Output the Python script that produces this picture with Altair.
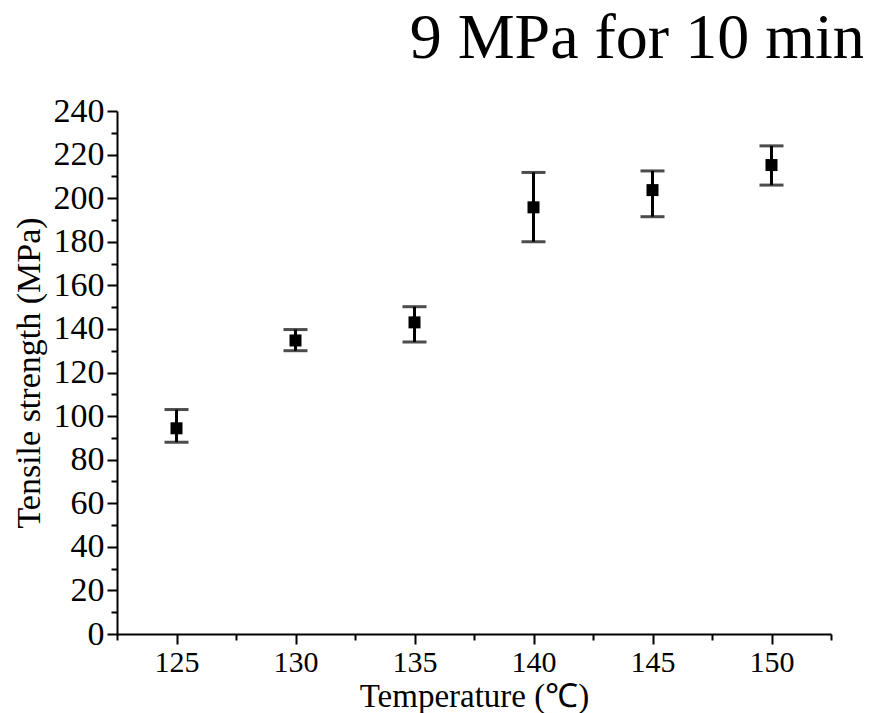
import altair as alt
import pandas as pd

temps = [125, 130, 135, 140, 145, 150]
strength = [94.4, 134.7, 143.0, 195.8, 203.7, 215.2]
err_low = [88.0, 130.0, 134.0, 180.0, 191.5, 206.0]
err_high = [103.0, 139.7, 150.2, 211.8, 212.5, 224.0]

x_major = [125, 130, 135, 140, 145, 150]
x_minor = [122.5, 127.5, 132.5, 137.5, 142.5, 147.5, 152.5]
y_major = list(range(0, 241, 20))
y_minor = list(range(10, 240, 20))

df = pd.DataFrame({"T": temps, "S": strength, "lo": err_low, "hi": err_high})

FONT = "Liberation Serif"
xs = alt.Scale(domain=[122.5, 152.5], nice=False, zero=False)
ys = alt.Scale(domain=[0, 240], nice=False)

x_axis = alt.Axis(values=x_major, title="Temperature (℃)", labelFont=FONT, labelFontSize=30,
                  titleFont=FONT, titleFontSize=33, titleFontWeight="normal", labelColor="black",
                  titleColor="black", domainColor="black", domainWidth=2, tickColor="black",
                  tickWidth=2, tickSize=10, labelPadding=3, titlePadding=3, grid=False)
y_axis = alt.Axis(values=y_major, title="Tensile strength (MPa)", labelFont=FONT, labelFontSize=34,
                  titleFont=FONT, titleFontSize=34, titleFontWeight="normal", labelColor="black",
                  titleColor="black", domainColor="black", domainWidth=2, tickColor="black",
                  tickWidth=2, tickSize=10, labelPadding=3, titlePadding=7, grid=False)

base = alt.Chart(df)

points = base.mark_square(size=144, color="black", opacity=1).encode(
    x=alt.X("T:Q", scale=xs, axis=x_axis),
    y=alt.Y("S:Q", scale=ys, axis=y_axis),
)

bars = base.mark_rule(color="black", strokeWidth=3).encode(
    x=alt.X("T:Q", scale=xs, axis=None),
    y=alt.Y("lo:Q", scale=ys, axis=None),
    y2="hi:Q",
)
cap_lo = base.mark_tick(color="black", orient="horizontal", size=24, thickness=3).encode(
    x=alt.X("T:Q", scale=xs, axis=None),
    y=alt.Y("lo:Q", scale=ys, axis=None),
)
cap_hi = base.mark_tick(color="black", orient="horizontal", size=24, thickness=3).encode(
    x=alt.X("T:Q", scale=xs, axis=None),
    y=alt.Y("hi:Q", scale=ys, axis=None),
)

minor_x_df = pd.DataFrame({"T": x_minor})
minor_y_df = pd.DataFrame({"S": y_minor})

minor_x = alt.Chart(minor_x_df).mark_point(opacity=0).encode(
    x=alt.X("T:Q", scale=xs, axis=alt.Axis(values=x_minor, labels=False, title=None, domain=False,
                                           tickColor="black", tickWidth=2, tickSize=6, grid=False,
                                           orient="bottom")),
)
minor_y = alt.Chart(minor_y_df).mark_point(opacity=0).encode(
    y=alt.Y("S:Q", scale=ys, axis=alt.Axis(values=y_minor, labels=False, title=None, domain=False,
                                           tickColor="black", tickWidth=2, tickSize=6, grid=False,
                                           orient="left")),
)

chart = alt.layer(points, bars, cap_lo, cap_hi, minor_x, minor_y).resolve_axis(
    x="independent", y="independent"
).properties(
    width=714,
    height=523,
    padding={"left": 109, "top": 103, "right": 32, "bottom": 79},
    autosize=alt.AutoSizeParams(type="none"),
    title=alt.TitleParams("9 MPa for 10 min", font=FONT, fontSize=64, fontWeight="normal",
                          color="black", anchor="end", dx=31, offset=23),
).configure_view(stroke=None)

chart.save("out.html", embed_options={"renderer": "svg", "actions": False})
